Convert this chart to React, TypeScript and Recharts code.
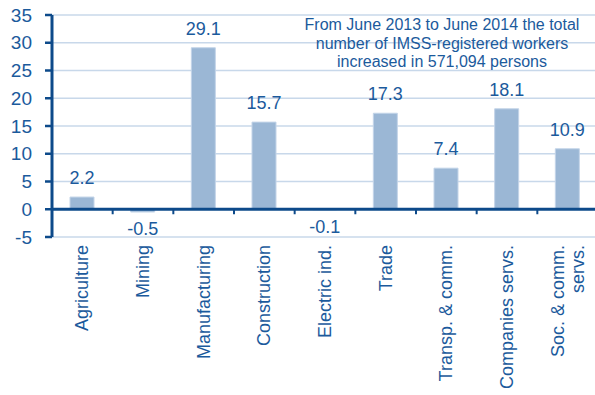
import React from 'react';
import { BarChart, Bar, XAxis, YAxis, CartesianGrid, ReferenceLine, LabelList } from 'recharts';

const categories = ['Agriculture', 'Mining', 'Manufacturing', 'Construction', 'Electric ind.', 'Trade', 'Transp. & comm.', 'Companies servs.', 'Soc. & comm. servs.'];
const values = [2.2, -0.5, 29.1, 15.7, -0.1, 17.3, 7.4, 18.1, 10.9];
const yTicks = [-5, 0, 5, 10, 15, 20, 25, 30, 35];
const noteLines = ['From June 2013 to June 2014 the total', 'number of IMSS-registered workers', 'increased in 571,094 persons'];

const data = categories.map((c, i) => ({ name: c, value: values[i] }));

const FONT = '"Liberation Sans", Arial, sans-serif';
const TEXT = '#1b5a9c';
const AXIS = '#0d4a8a';
const GRID = '#c8d8ea';
const BAR = '#9bb7d5';

const CHART_W = 598;
const CHART_H = 395;
const TOP = 15;
const YAXIS_W = 52;
const XAXIS_H = 158;
const PLOT_H = CHART_H - TOP - XAXIS_H;
const PLOT_W = CHART_W - YAXIS_W;
const BAND = PLOT_W / categories.length;
const ZERO_Y = TOP + (PLOT_H * 35) / 40;

const CategoryTick = (props: any) => {
  const { x, y, payload, index } = props;
  const label: string = String(payload.value);
  let lines = [label];
  if (label.length > 17) {
    const k = label.lastIndexOf(' ');
    lines = [label.slice(0, k), label.slice(k + 1)];
  }
  const y0 = y;
  const lh = 20;
  const start = -((lines.length - 1) * lh) / 2;
  return (
    <g>
      {index < categories.length - 1 && (
        <line x1={x + BAND / 2} x2={x + BAND / 2} y1={ZERO_Y} y2={ZERO_Y + 5} stroke={AXIS} strokeWidth={2} />
      )}
      {lines.map((ln, i) => {
        const lx = x + start + i * lh;
        return (
          <text
            key={i}
            x={lx}
            y={y0}
            transform={`rotate(-90, ${lx}, ${y0})`}
            textAnchor="end"
            dominantBaseline="central"
            fontSize={18}
            fontFamily={FONT}
            fill={TEXT}
          >
            {ln}
          </text>
        );
      })}
    </g>
  );
};

const ValueLabel = (props: any) => {
  const { x, y, width, height, value } = props;
  const top = Math.min(y, y + height);
  const bottom = Math.max(y, y + height);
  const cx = x + width / 2;
  const ty = value >= 0 ? top - 13 : bottom + 23;
  return (
    <text x={cx} y={ty} textAnchor="middle" fontSize={18} fontFamily={FONT} fill={TEXT}>
      {Number(value).toFixed(1)}
    </text>
  );
};

export default function App() {
  return (
    <div style={{ position: 'absolute', left: 0, top: 0, width: 595, height: 395, overflow: 'hidden', background: '#fff' }}>
      <BarChart width={CHART_W} height={CHART_H} data={data} margin={{ top: TOP, right: 0, left: 0, bottom: 0 }}>
        <CartesianGrid horizontal vertical={false} stroke={GRID} strokeWidth={1.5} />
        <XAxis
          dataKey="name"
          height={XAXIS_H}
          axisLine={false}
          tickLine={false}
          tickSize={0}
          tickMargin={8}
          interval={0}
          tick={<CategoryTick />}
        />
        <YAxis
          width={YAXIS_W}
          domain={[-5, 35]}
          ticks={yTicks}
          interval={0}
          axisLine={{ stroke: AXIS, strokeWidth: 3 }}
          tickLine={{ stroke: AXIS, strokeWidth: 2.5 }}
          tickSize={7}
          tickMargin={13}
          tick={{ fontSize: 19, fontFamily: FONT, fill: TEXT }}
        />
        <Bar dataKey="value" fill={BAR} stroke="#c3d4e8" strokeWidth={1} barSize={24} isAnimationActive={false}>
          <LabelList dataKey="value" content={<ValueLabel />} />
        </Bar>
        <ReferenceLine y={0} stroke={AXIS} strokeWidth={3} />
      </BarChart>
      <div
        style={{
          position: 'absolute',
          left: 292,
          width: 300,
          top: 16,
          textAlign: 'center',
          fontFamily: FONT,
          fontSize: 16,
          lineHeight: '18.5px',
          color: TEXT,
        }}
      >
        {noteLines.map((l, i) => (
          <div key={i}>{l}</div>
        ))}
      </div>
    </div>
  );
}
